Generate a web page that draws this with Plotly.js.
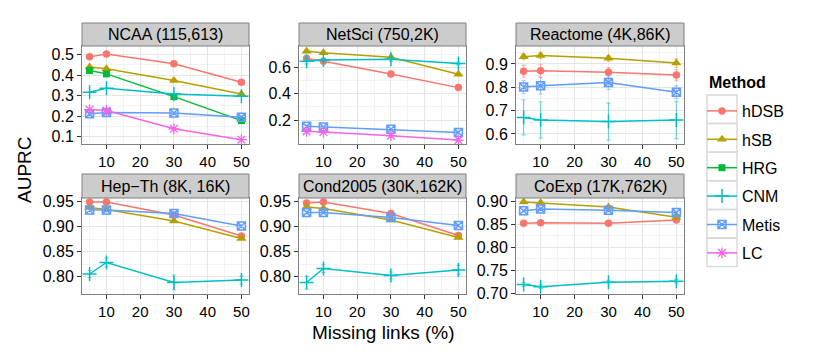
<!DOCTYPE html>
<html>
<head>
<meta charset="utf-8">
<script src="https://cdn.plot.ly/plotly-3.0.1.min.js"></script>
<style>html,body{margin:0;padding:0;background:#fff;}#chart{width:830px;height:356px;}</style>
</head>
<body>
<div id="chart"></div>
<script>
// ---- data ----
const missing = [5, 10, 30, 50];
const methods = ['hDSB', 'hSB', 'HRG', 'CNM', 'Metis', 'LC'];
const datasets = ['NCAA (115,613)', 'NetSci (750,2K)', 'Reactome (4K,86K)',
                  'Hep\u2212Th (8K, 16K)', 'Cond2005 (30K,162K)', 'CoExp (17K,762K)'];
const xTicks = [10, 20, 30, 40, 50];

// AUPRC per method, one row per dataset (null = not run)
const hDSB  = [[0.489, 0.503, 0.455, 0.365], [0.668, 0.646, 0.549, 0.446], [0.869, 0.871, 0.864, 0.853],
               [0.949, 0.949, 0.923, 0.881], [0.947, 0.949, 0.926, 0.882], [0.852, 0.853, 0.852, 0.859]];
const hSB   = [[0.439, 0.431, 0.374, 0.308], [0.722, 0.711, 0.676, 0.547], [0.931, 0.936, 0.924, 0.904],
               [0.938, 0.934, 0.911, 0.876], [0.939, 0.936, 0.913, 0.878], [0.898, 0.896, 0.887, 0.865]];
const HRG   = [[0.422, 0.406, 0.295, 0.178], null, null, null, null, null];
const CNM   = [[0.316, 0.336, 0.308, 0.297], [0.646, 0.656, 0.661, 0.630], [0.671, 0.660, 0.653, 0.660],
               [0.805, 0.828, 0.788, 0.793], [0.788, 0.816, 0.802, 0.813], [0.720, 0.715, 0.725, 0.727]];
const Metis = [[0.211, 0.218, 0.215, 0.195], [0.152, 0.147, 0.130, 0.106], [0.801, 0.807, 0.821, 0.779],
               [0.933, 0.933, 0.926, 0.901], [0.928, 0.928, 0.918, 0.902], [0.879, 0.883, 0.880, 0.875]];
const LC    = [[0.232, 0.227, 0.138, 0.085], [0.114, 0.109, 0.081, 0.048], null, null, null, null];

// error bar half-widths
const hDSBerr  = [null, null, [0.025, 0.027, 0.020, 0.023], null, null, null];
const hSBerr   = [null, [0.010, 0.008, 0.008, 0.008], [0.013, 0.012, 0.012, 0.018], null, null, null];
const HRGerr   = [null, null, null, null, null, null];
const CNMerr   = [null, [0.020, 0.012, 0.015, 0.010], [0.075, 0.078, 0.079, 0.080],
                  [0.007, 0.009, 0.015, 0.008], [0.013, 0.008, 0.007, 0.009], [0.004, 0.004, 0.004, 0.004]];
const Metiserr = [null, null, [0.028, 0.035, 0.030, 0.028], null, null, null];
const LCerr    = [null, null, null, null, null, null];

// y-axis ticks per panel
const yTicks = [[0.1, 0.2, 0.3, 0.4, 0.5], [0.2, 0.4, 0.6], [0.6, 0.7, 0.8, 0.9],
                [0.80, 0.85, 0.90, 0.95], [0.80, 0.85, 0.90, 0.95], [0.70, 0.75, 0.80, 0.85, 0.90]];
const yTickFmt = ['.1f', '.1f', '.1f', '.2f', '.2f', '.2f'];

// ---- styling / geometry ----
const values = {hDSB: hDSB, hSB: hSB, HRG: HRG, CNM: CNM, Metis: Metis, LC: LC};
const errors = {hDSB: hDSBerr, hSB: hSBerr, HRG: HRGerr, CNM: CNMerr, Metis: Metiserr, LC: LCerr};
const colors = {hDSB: '#F8766D', hSB: '#B79F00', HRG: '#00BA38', CNM: '#00BFC4', Metis: '#619CFF', LC: '#F564E3'};
const errColors = {hDSB: 'rgba(248,118,109,0.5)', hSB: 'rgba(183,159,0,0.5)', HRG: 'rgba(0,186,56,0.5)',
                   CNM: 'rgba(0,191,196,0.55)', Metis: 'rgba(97,156,255,0.5)', LC: 'rgba(245,100,227,0.5)'};
const markers = {
  hDSB:  {symbol: 'circle', size: 7.5},
  hSB:   {symbol: 'triangle-up', size: 9},
  HRG:   {symbol: 'square', size: 7},
  CNM:   {symbol: 'cross-thin-open', size: 10, lw: 1.5},
  Metis: {symbol: 'square-x-open', size: 8, lw: 1.5},
  LC:    {symbol: 'asterisk-open', size: 9, lw: 1.3}
};
const yRanges = [[0.064, 0.542], [0.018, 0.762], [0.557, 0.977],
                 [0.765, 0.957], [0.765, 0.957], [0.6994, 0.9065]];

const W = 830, H = 356;
const colPx = [[82, 249], [299, 466], [516, 684]];
const rowPx = [[46, 144], [198, 294]];
const stripPx = [[23, 46], [174, 198]];
const FONT = 'Liberation Sans, Arial, Helvetica, sans-serif';

const traces = [];
const layout = {
  width: W, height: H,
  margin: {l: 0, r: 0, t: 0, b: 0},
  paper_bgcolor: '#fff', plot_bgcolor: '#fff',
  font: {family: FONT, size: 15, color: '#000'},
  showlegend: true,
  legend: {
    x: 702 / W, xanchor: 'left', y: 1 - 94 / H, yanchor: 'top',
    bgcolor: 'rgba(0,0,0,0)', borderwidth: 0,
    font: {size: 16, family: FONT}, itemwidth: 30, tracegroupgap: 4.6,
    traceorder: 'grouped'
  },
  shapes: [], annotations: []
};

for (let p = 0; p < 6; p++) {
  const r = Math.floor(p / 3), c = p % 3;
  const ax = p === 0 ? '' : String(p + 1);
  const xd = [colPx[c][0] / W, colPx[c][1] / W];
  const yd = [1 - rowPx[r][1] / H, 1 - rowPx[r][0] / H];
  layout['xaxis' + ax] = {
    domain: xd, anchor: 'y' + ax, range: [2.75, 52.25],
    tickvals: xTicks, ticks: 'outside', ticklen: 4, tickcolor: '#333', tickwidth: 1,
    showline: true, mirror: true, linecolor: '#7F7F7F', linewidth: 1,
    showgrid: true, gridcolor: '#E5E5E5', gridwidth: 1, zeroline: false,
    minor: {dtick: 5, tick0: 0, showgrid: true, gridcolor: '#F3F3F3', ticks: ''},
    tickfont: {size: 15, color: '#000'}, fixedrange: true
  };
  const yt = yTicks[p];
  const step = yt[1] - yt[0];
  layout['yaxis' + ax] = {
    domain: yd, anchor: 'x' + ax, range: yRanges[p],
    tickvals: yt, tickformat: yTickFmt[p], ticks: 'outside', ticklen: 4, tickcolor: '#333', tickwidth: 1,
    showline: true, mirror: true, linecolor: '#7F7F7F', linewidth: 1,
    showgrid: true, gridcolor: '#E5E5E5', gridwidth: 1, zeroline: false,
    minor: {dtick: step / 2, tick0: yt[0], showgrid: true, gridcolor: '#F3F3F3', ticks: ''},
    tickfont: {size: 16, color: '#000'}, fixedrange: true
  };
  // strip
  layout.shapes.push({type: 'rect', xref: 'paper', yref: 'paper',
    x0: xd[0], x1: xd[1], y0: 1 - stripPx[r][1] / H, y1: 1 - stripPx[r][0] / H,
    fillcolor: '#CCCCCC', line: {color: '#7F7F7F', width: 1}, layer: 'above'});
  layout.annotations.push({xref: 'paper', yref: 'paper', x: (xd[0] + xd[1]) / 2,
    y: 1 - (stripPx[r][0] + stripPx[r][1]) / 2 / H, xanchor: 'center', yanchor: 'middle',
    text: datasets[p], showarrow: false, font: {size: 16, family: FONT, color: '#000'}});

  methods.forEach((m) => {
    const v = values[m][p];
    if (!v) return;
    const e = errors[m][p];
    const mk = markers[m];
    const marker = {symbol: mk.symbol, size: mk.size, color: colors[m]};
    if (mk.lw) marker.line = {color: colors[m], width: mk.lw};
    traces.push({
      type: 'scatter', mode: 'lines+markers', name: m,
      x: missing, y: v, xaxis: 'x' + ax, yaxis: 'y' + ax,
      line: {color: colors[m], width: 1.5}, marker: marker,
      error_y: e ? {type: 'data', array: e, visible: true, color: errColors[m], thickness: 1.2, width: 2}
                 : {visible: false},
      legendgroup: m, showlegend: p === 0, hoverinfo: 'skip'
    });
  });
}

// legend key boxes
for (let i = 0; i < 6; i++) {
  const top = 95 + i * 28.6;
  layout.shapes.push({type: 'rect', xref: 'paper', yref: 'paper',
    x0: 707 / W, x1: 737 / W, y0: 1 - (top + 28.6) / H, y1: 1 - top / H,
    fillcolor: 'rgba(0,0,0,0)', line: {color: '#D9D9D9', width: 1.5}, layer: 'above'});
}

// legend title and axis titles
layout.annotations.push({xref: 'paper', yref: 'paper', x: 707 / W, y: 1 - 82 / H,
  xanchor: 'left', yanchor: 'middle', text: '<b>Method</b>', showarrow: false,
  font: {size: 16, family: FONT, color: '#000'}});
layout.annotations.push({xref: 'paper', yref: 'paper', x: 383 / W, y: 1 - 332 / H,
  xanchor: 'center', yanchor: 'middle', text: 'Missing links (%)', showarrow: false,
  font: {size: 19, family: FONT, color: '#000'}});
layout.annotations.push({xref: 'paper', yref: 'paper', x: 25 / W, y: 1 - 170 / H,
  xanchor: 'center', yanchor: 'middle', text: 'AUPRC', textangle: -90, showarrow: false,
  font: {size: 19, family: FONT, color: '#000'}});

Plotly.newPlot('chart', traces, layout, {staticPlot: true, displayModeBar: false});
</script>
</body>
</html>
